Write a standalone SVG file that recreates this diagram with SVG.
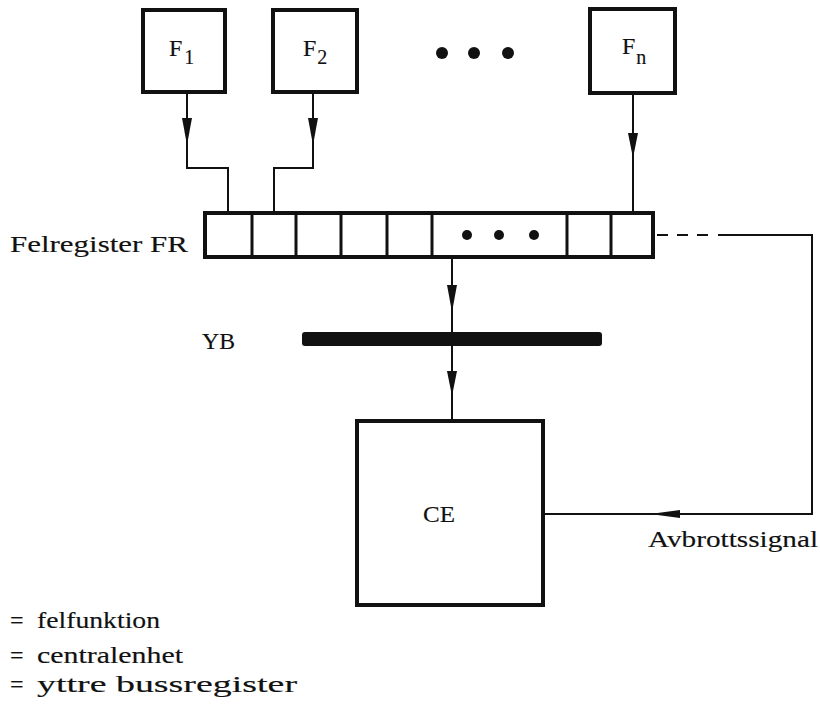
<svg xmlns="http://www.w3.org/2000/svg" width="820" height="708" viewBox="0 0 820 708">
<style>
.box{fill:#fff;stroke:#111;stroke-width:4}
.cell{stroke:#111;stroke-width:3}
.wire{fill:none;stroke:#111;stroke-width:2}
.head{fill:#111}
text{font-family:"Liberation Serif","DejaVu Serif",serif;fill:#111;font-size:24px;stroke:#111;stroke-width:0.15}
.sub{font-size:20px}
</style>
<rect width="820" height="708" fill="#fff"/>
<g id="F1">
<rect class="box" x="143" y="10" width="82" height="82"/>
<text x="169" y="56" font-size="26">F<tspan class="sub" dx="2" dy="8">1</tspan></text>
</g>
<g id="F2">
<rect class="box" x="273" y="10" width="84" height="82"/>
<text x="303" y="56" font-size="26">F<tspan class="sub" dx="1" dy="8">2</tspan></text>
</g>
<g id="dots-top">
<circle cx="442" cy="53" r="6" fill="#111"/>
<circle cx="474" cy="53" r="6" fill="#111"/>
<circle cx="508" cy="53" r="6" fill="#111"/>
</g>
<g id="Fn">
<rect class="box" x="590" y="9" width="85" height="84"/>
<text x="622" y="54" font-size="26">F<tspan class="sub" dx="1" dy="10">n</tspan></text>
</g>
<g id="FR">
<rect class="box" x="205" y="213" width="448" height="44"/>
<line class="cell" x1="252" y1="213" x2="252" y2="257"/>
<line class="cell" x1="296" y1="213" x2="296" y2="257"/>
<line class="cell" x1="341" y1="213" x2="341" y2="257"/>
<line class="cell" x1="387" y1="213" x2="387" y2="257"/>
<line class="cell" x1="432" y1="213" x2="432" y2="257"/>
<line class="cell" x1="567" y1="213" x2="567" y2="257"/>
<line class="cell" x1="611" y1="213" x2="611" y2="257"/>
<circle cx="467" cy="235" r="5" fill="#111"/>
<circle cx="499" cy="235" r="5" fill="#111"/>
<circle cx="534" cy="235" r="5" fill="#111"/>
<text x="10" y="252" font-size="25" textLength="178" lengthAdjust="spacingAndGlyphs">Felregister FR</text>
</g>
<g id="YB">
<rect x="302" y="332" width="300" height="14" rx="3" fill="#111"/>
<text x="202" y="349" font-size="24" textLength="33" lengthAdjust="spacingAndGlyphs">YB</text>
</g>
<g id="CE">
<rect class="box" x="357" y="421" width="186" height="184"/>
<text x="423" y="522" font-size="24" textLength="32" lengthAdjust="spacingAndGlyphs">CE</text>
</g>
<g id="connectors">
<polyline class="wire" points="187,92 187,168 228,168 228,213"/>
<polygon class="head" points="182,118 192,118 187,145"/>
<polyline class="wire" points="313,92 313,168 274,168 274,213"/>
<polygon class="head" points="308,118 318,118 313,145"/>
<line class="wire" x1="633" y1="93" x2="633" y2="213"/>
<polygon class="head" points="628,133 638,133 633,158"/>
<line class="wire" x1="452" y1="257" x2="452" y2="332"/>
<polygon class="head" points="447,285 457,285 452,312"/>
<line class="wire" x1="452" y1="346" x2="452" y2="421"/>
<polygon class="head" points="447,371 457,371 452,396"/>
<line class="wire" x1="657" y1="235" x2="714" y2="235" stroke-dasharray="11,9"/>
<polyline class="wire" points="718,235 812,235 812,514 544,514"/>
<polygon class="head" points="680,510 680,518 650,514"/>
<text x="648" y="547" font-size="24" textLength="170" lengthAdjust="spacingAndGlyphs">Avbrottssignal</text>
</g>
<g id="legend">
<text x="10" y="628" font-size="22">=</text>
<text x="37" y="628" font-size="23" textLength="123" lengthAdjust="spacingAndGlyphs">felfunktion</text>
<text x="10" y="663" font-size="22">=</text>
<text x="37" y="663" font-size="23" textLength="146" lengthAdjust="spacingAndGlyphs">centralenhet</text>
<text x="10" y="692" font-size="22">=</text>
<text x="37" y="692" font-size="23" textLength="260" lengthAdjust="spacingAndGlyphs">yttre bussregister</text>
</g>
</svg>
